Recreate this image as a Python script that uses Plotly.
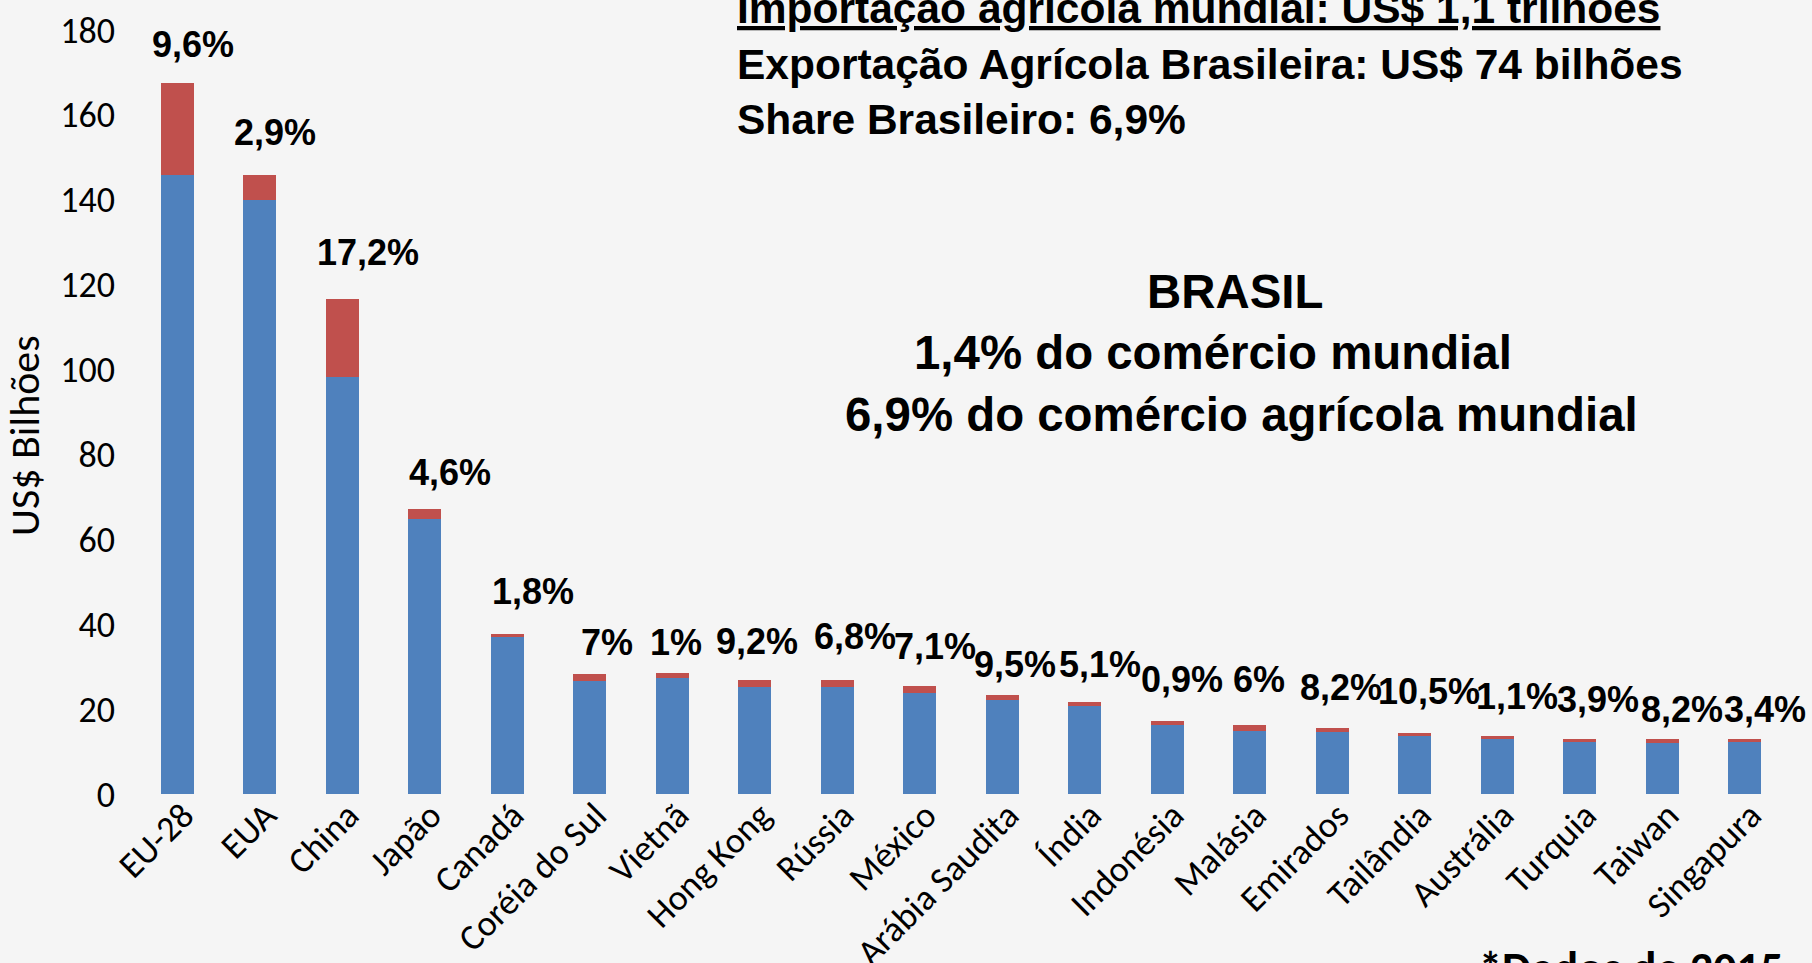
import plotly.graph_objects as go

# ---- data ----
countries = ["EU-28", "EUA", "China", "Japão", "Canadá", "Coréia do Sul", "Vietnã",
             "Hong Kong", "Rússia", "México", "Arábia Saudita", "Índia", "Indonésia",
             "Malásia", "Emirados", "Tailândia", "Austrália", "Turquia", "Taiwan", "Singapura"]
outros = [145.8, 140.0, 98.3, 64.7, 37.0, 26.6, 27.4, 25.2, 25.1, 23.8, 22.2, 20.8,
          16.3, 14.9, 14.7, 13.7, 13.0, 12.3, 11.9, 12.3]
brasil = [21.8, 5.9, 18.4, 2.5, 0.7, 1.7, 1.1, 1.7, 1.8, 1.7, 1.1, 0.9,
          0.9, 1.4, 0.9, 0.7, 0.7, 0.7, 1.1, 0.7]
share_labels = ["9,6%", "2,9%", "17,2%", "4,6%", "1,8%", "7%", "1%", "9,2%", "6,8%", "7,1%",
                "9,5%", "5,1%", "0,9%", "6%", "8,2%", "10,5%", "1,1%", "3,9%", "8,2%", "3,4%"]
y_ticks = [0, 20, 40, 60, 80, 100, 120, 140, 160, 180]

# ---- label placement (style) ----
label_y = [176.6, 155.8, 127.5, 75.7, 47.6, 35.6, 35.6, 35.9, 37.1, 34.7,
           30.4, 30.4, 26.9, 26.9, 25.0, 24.1, 22.9, 22.2, 19.8, 19.8]
label_dx = [16, 15, 26, 25, 26, 17, 4, 2, 18, 15, 13, 15, 15, 9, 9, 14, 20, 18, 20, 20]

BLUE = "#4F81BD"
RED = "#C0504D"
BG = "#f5f5f5"
TICKFONT = "Carlito, Lato, sans-serif"
BOLD = "Liberation Sans, Arial, sans-serif"

fig = go.Figure()
fig.add_trace(go.Bar(x=countries, y=outros, marker=dict(color=BLUE, line=dict(width=0)),
                     name="Outros", hoverinfo="x+y"))
fig.add_trace(go.Bar(x=countries, y=brasil, marker=dict(color=RED, line=dict(width=0)),
                     name="Brasil", hoverinfo="x+y"))

W, H = 1812, 963
L, R, T, B = 136, 26, 30, 169
pw, ph = W - L - R, H - T - B


def px(x):
    return (x - L) / pw


def py(y):
    return (H - B - y) / ph


annotations = []
for c, t, ly, dx in zip(countries, share_labels, label_y, label_dx):
    annotations.append(dict(x=c, y=ly, xref="x", yref="y", text=t, showarrow=False,
                            xshift=dx, xanchor="center", yanchor="middle",
                            font=dict(family=BOLD, size=36, color="black", weight="bold")))

annotations.append(dict(x=px(25), y=py(436), xref="paper", yref="paper", text="US$ Bilhões",
                        textangle=-90, showarrow=False, xanchor="center", yanchor="middle",
                        font=dict(family=TICKFONT, size=42, color="black")))

top_lines = ["<u>Importação agrícola mundial: US$ 1,1 trilhões</u>",
             "Exportação Agrícola Brasileira: US$ 74 bilhões",
             "Share Brasileiro: 6,9%"]
for line, yc in zip(top_lines, [9, 64, 119]):
    annotations.append(dict(x=px(735), y=py(yc), xref="paper", yref="paper", text=line,
                            showarrow=False, xanchor="left", yanchor="middle",
                            font=dict(family=BOLD, size=42.5, color="black", weight="bold")))

center_lines = ["BRASIL", "1,4% do comércio mundial", "6,9% do comércio agrícola mundial"]
for line, xc, yc in zip(center_lines, [1235, 1213, 1241], [292, 352, 414]):
    annotations.append(dict(x=px(xc), y=py(yc), xref="paper", yref="paper", text=line,
                            showarrow=False, xanchor="center", yanchor="middle",
                            font=dict(family=BOLD, size=47.4, color="black", weight="bold")))

annotations.append(dict(x=px(1477), y=py(938), xref="paper", yref="paper", text="*Dados de 2015",
                        showarrow=False, xanchor="left", yanchor="top",
                        font=dict(family=TICKFONT, size=46, color="black", weight="bold")))

fig.update_layout(
    width=W, height=H,
    margin=dict(l=L, r=R, t=T, b=B, pad=0, autoexpand=False),
    paper_bgcolor=BG, plot_bgcolor=BG,
    barmode="stack", bargap=0.6,
    showlegend=False,
    annotations=annotations,
    xaxis=dict(type="category", range=[-0.5, len(countries) - 0.5], domain=[0, 1],
               tickangle=-45, showgrid=False, zeroline=False, showline=False,
               automargin=False, ticks="", ticklabelstandoff=-8, ticklabelshift=6,
               tickfont=dict(family=TICKFONT, size=36, color="black")),
    yaxis=dict(range=[0, 180], tickvals=y_ticks, showgrid=False, zeroline=False, showline=False,
               automargin=False, ticks="", ticklabelstandoff=20,
               tickfont=dict(family=TICKFONT, size=36, color="black")),
)

fig.write_html("out.html",
               config={"displayModeBar": False},
               post_script="document.body.style.margin='0';"
                           "document.documentElement.style.overflow='hidden';"
                           "document.body.style.overflow='hidden';"
                           f"document.body.style.background='{BG}';")
